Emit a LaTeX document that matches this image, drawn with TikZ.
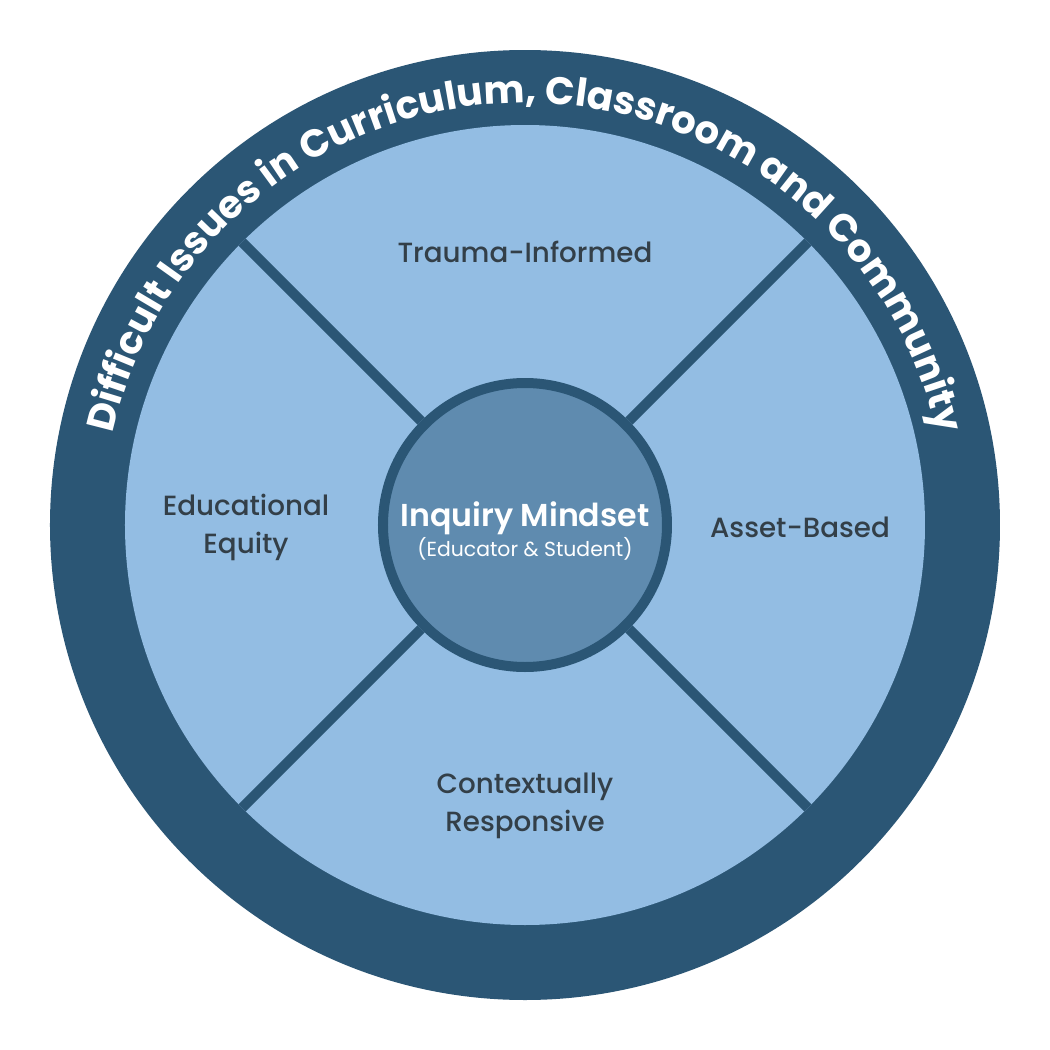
\documentclass[tikz,border=0pt]{standalone}
\usepackage{fontspec}
\setmainfont{Poppins}
\newfontfamily\labelfont{Poppins Medium}
\newfontfamily\titlefont{Poppins SemiBold}
\usepackage{tikz}
\usetikzlibrary{positioning,decorations.text}
\definecolor{ringblue}{HTML}{2B5675}
\definecolor{wedgeblue}{HTML}{93BDE3}
\definecolor{coreblue}{HTML}{5F8BAF}
\definecolor{labelgray}{HTML}{333F48}
\tikzset{
  ring/.style={circle, fill=ringblue, minimum size=9.5cm, inner sep=0pt, outer sep=0pt},
  wheel/.style={circle, fill=wedgeblue, minimum size=8cm, inner sep=0pt, outer sep=0pt},
  core/.style={circle, draw=ringblue, line width=0.1cm, fill=coreblue, minimum size=2.84cm, inner sep=0pt},
  coretext/.style={align=center, text=white, inner sep=0pt},
  spoke/.style={draw=ringblue, line width=0.1cm},
  part/.style={align=center, text=labelgray, font=\labelfont\fontsize{7.9}{10.8}\selectfont}
}

\begin{document}
\begin{tikzpicture}
  \useasboundingbox[fill=white] (-5.25,-5.25) rectangle (5.25,5.25);
  \node[ring] (outer) at (0,0) {};
  \node[wheel] (wheel) at (0,0) {};
  \node[core] (core) at (0,0) {};
  \foreach \a in {45,135,225,315}
    \draw[spoke] (core.\a) -- (wheel.\a);
  \node[coretext] (mindset) at ([yshift=-0.06cm]core.center)
    {{\titlefont\fontsize{9}{11}\selectfont Inquiry Mindset}\\[-3.5pt]{\fontsize{5.8}{7}\selectfont (Educator \& Student)}};
  \node[part] (trauma) at (0,2.73) {Trauma-Informed};
  \node[part] (equity) at (-2.79,-0.02) {Educational\\Equity};
  \node[part] (asset) at (2.75,-0.02) {Asset-Based};
  \node[part] (context) at (0,-2.81) {Contextually\\Responsive};
  % title along the ring
  \path[decorate, decoration={text along path, text align=center,
      text={|\fontsize{11}{11}\selectfont\bfseries\color{white}|Difficult Issues in Curriculum, Classroom and Community}}]
    (170:4.22) arc[start angle=170, end angle=10, radius=4.22];
\end{tikzpicture}
\end{document}
